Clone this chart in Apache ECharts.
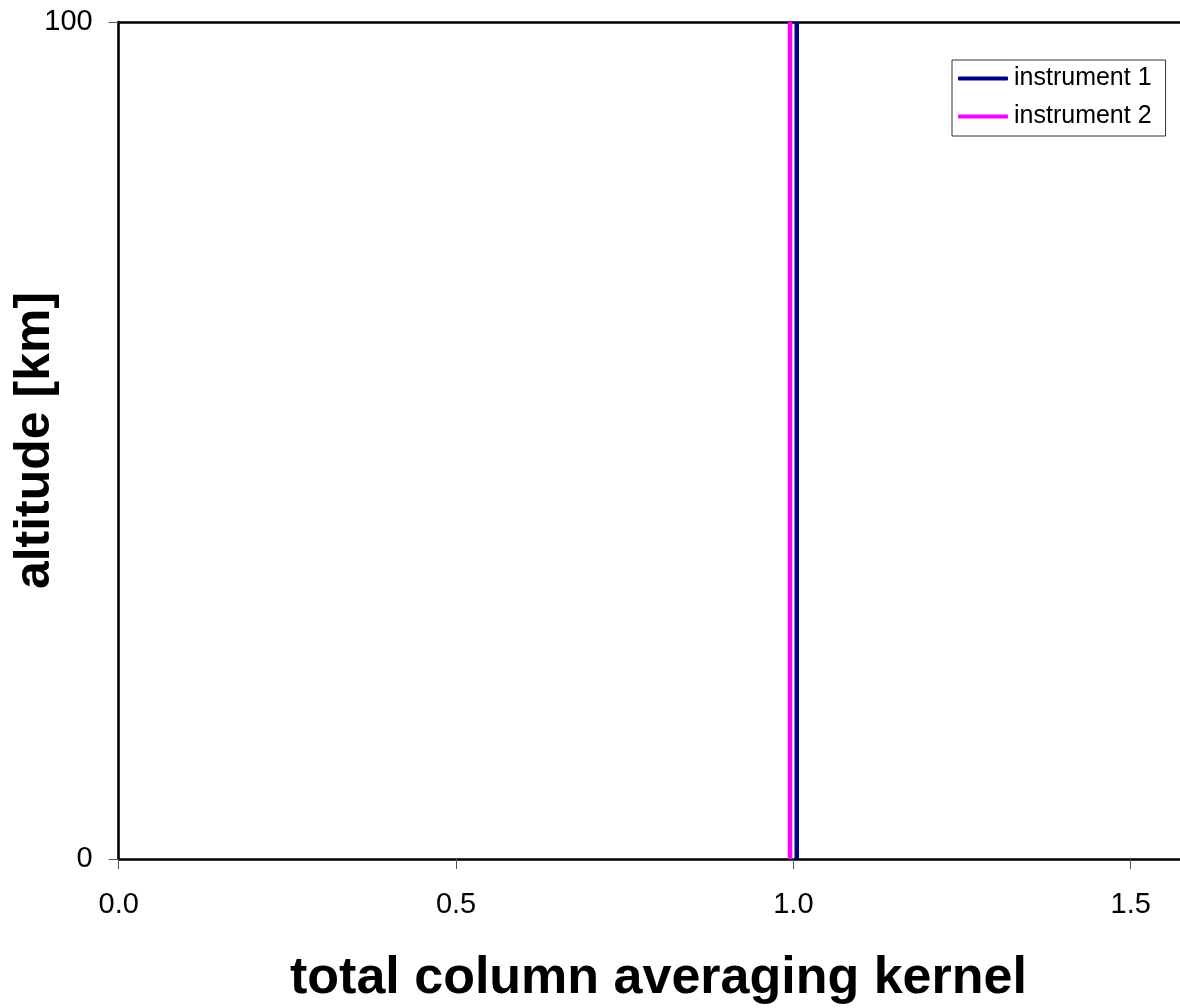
<!DOCTYPE html>
<html>
<head>
<meta charset="utf-8">
<script src="https://cdn.jsdelivr.net/npm/echarts@6/dist/echarts.min.js"></script>
<style>
html,body{margin:0;padding:0;background:#fff;}
#chart{width:1180px;height:1008px;}
</style>
</head>
<body>
<div id="chart"></div>
<script>
// ---- data ----
const altitudes = [0, 100];                 // km
const instrument1 = [1.005, 1.005];         // total column averaging kernel
const instrument2 = [0.995, 0.995];
const seriesNames = ['instrument 1', 'instrument 2'];
const xTickLabels = ['0.0', '0.5', '1.0', '1.5'];
const yTickLabels = ['0', '100'];
const xTitle = 'total column averaging kernel';
const yTitle = 'altitude [km]';

const FONT = '"Liberation Sans", Arial, sans-serif';
const chart = echarts.init(document.getElementById('chart'));

function pairs(xs, ys) { return xs.map((x, i) => [x, ys[i]]); }

const axisLineStyle = { color: '#000', width: 2.6 };

chart.setOption({
  backgroundColor: '#fff',
  animation: false,
  grid: { left: 118.7, top: 22, bottom: 149, right: -18.2, containLabel: false, outerBoundsMode: 'none' },
  legend: {
    orient: 'vertical',
    left: 952, top: 60,
    padding: [6, 14, 7, 6],
    backgroundColor: '#fff',
    borderColor: '#333', borderWidth: 1,
    itemWidth: 50, itemHeight: 4, itemGap: 13,
    icon: 'roundRect',
    textStyle: { fontFamily: FONT, fontSize: 25, color: '#000', padding: [0, 0, 0, 1] },
    data: seriesNames
  },
  xAxis: [{
    type: 'value', min: 0, max: 1.6, interval: 0.5,
    name: xTitle, nameLocation: 'middle', nameGap: 94, nameMoveOverlap: false,
    nameTextStyle: { fontFamily: FONT, fontSize: 52, fontWeight: 'bold', color: '#000' },
    axisLine: { show: true, onZero: false, lineStyle: axisLineStyle },
    axisTick: { show: true, length: 10, lineStyle: { color: '#555', width: 1 } },
    axisLabel: {
      fontFamily: FONT, fontSize: 29, color: '#000', margin: 31, showMaxLabel: false,
      formatter: v => { const i = Math.round(v / 0.5); return (Math.abs(v - i * 0.5) < 1e-9 && xTickLabels[i]) ? xTickLabels[i] : ''; }
    },
    splitLine: { show: false }
  }, {
    type: 'value', min: 0, max: 1.6, position: 'top',
    axisLine: { show: true, onZero: false, lineStyle: axisLineStyle },
    axisTick: { show: false }, axisLabel: { show: false }, splitLine: { show: false }
  }],
  yAxis: {
    type: 'value', min: 0, max: 100, interval: 100,
    name: yTitle, nameLocation: 'middle', nameGap: 58, nameMoveOverlap: false,
    nameTextStyle: { fontFamily: FONT, fontSize: 50, fontWeight: 'bold', color: '#000' },
    axisLine: { show: true, onZero: false, lineStyle: axisLineStyle },
    axisTick: { show: true, length: 10, lineStyle: { color: '#555', width: 1 } },
    axisLabel: {
      fontFamily: FONT, fontSize: 29, color: '#000', margin: 26,
      formatter: v => yTickLabels[Math.round(v / 100)] || ''
    },
    splitLine: { show: false }
  },
  series: [{
    name: seriesNames[0], type: 'line', xAxisIndex: 0,
    data: pairs(instrument1, altitudes),
    showSymbol: false, symbol: 'none',
    color: '#000080',
    lineStyle: { color: '#000080', width: 4.5 }
  }, {
    name: seriesNames[1], type: 'line', xAxisIndex: 0,
    data: pairs(instrument2, altitudes),
    showSymbol: false, symbol: 'none',
    color: '#FF00FF',
    lineStyle: { color: '#FF00FF', width: 4.5 }
  }]
});
</script>
</body>
</html>
